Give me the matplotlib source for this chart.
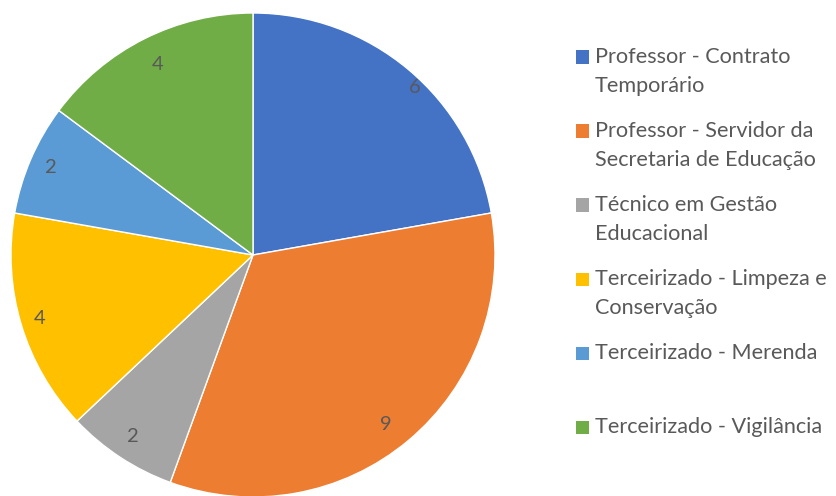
import matplotlib
matplotlib.use("Agg")
import numpy as np
import matplotlib.pyplot as plt
from matplotlib.patches import Rectangle

categories = [
    "Professor - Contrato\nTemporário",
    "Professor - Servidor da\nSecretaria de Educação",
    "Técnico em Gestão\nEducacional",
    "Terceirizado - Limpeza e\nConservação",
    "Terceirizado - Merenda",
    "Terceirizado - Vigilância",
]
values = [6, 9, 2, 4, 2, 4]
colors = ["#4472C4", "#ED7D31", "#A5A5A5", "#FFC000", "#5B9BD5", "#70AD47"]

W, H = 836, 496
fig = plt.figure(figsize=(W / 100, H / 100), dpi=100)
plt.rcParams["font.family"] = ["Lato", "DejaVu Sans"]
text_color = "#595959"

# pie axes: centre (253, 255) px, radius 242 px
cx, cy, r = 253, 255, 242
ax = fig.add_axes([(cx - r) / W, (H - cy - r) / H, 2 * r / W, 2 * r / H])
wedges, texts = ax.pie(
    values,
    colors=colors,
    startangle=90,
    counterclock=False,
    labels=[str(v) for v in values],
    labeldistance=0.91,
    wedgeprops=dict(edgecolor="white", linewidth=1.0),
    textprops=dict(color=text_color, fontsize=14.5, ha="center", va="center"),
)
# best-fit style placement of the value labels (radius factor, angle shift in degrees)
label_radius = [0.96, 0.89, 0.90, 0.92, 0.91, 0.88]
label_shift = [-4, -2, 0, 0, 0, 0]
for w, t, lr, sh in zip(wedges, texts, label_radius, label_shift):
    ang = np.deg2rad((w.theta1 + w.theta2) / 2 + sh)
    t.set_position((lr * np.cos(ang), lr * np.sin(ang)))
    t.set_ha("center")
    t.set_va("center")
ax.set_xlim(-1, 1)
ax.set_ylim(-1, 1)
ax.set_aspect("equal")
ax.axis("off")

# legend drawn in figure pixel coordinates
item_y = [57, 131, 205, 279, 353, 427]
line_step = 29
for lab, col, y in zip(categories, colors, item_y):
    fig.patches.append(Rectangle((576 / W, (H - y - 6.5) / H), 13 / W, 13 / H,
                                 transform=fig.transFigure, facecolor=col,
                                 edgecolor="none"))
    for i, line in enumerate(lab.split("\n")):
        fig.text(595 / W, (H - y - i * line_step) / H, line, ha="left", va="center",
                 color=text_color, fontsize=15.6)

fig.savefig("out.png", dpi=100)
